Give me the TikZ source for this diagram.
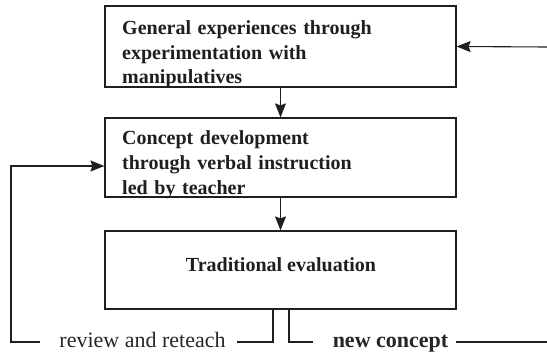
\documentclass[tikz,border=0pt]{standalone}
\usepackage{fontspec}
\setmainfont{Liberation Serif}
\usetikzlibrary{arrows.meta}
\begin{document}
\begin{tikzpicture}[x=1pt,y=1pt,
  ink/.style={draw=black!88,line width=1.2pt},
  boxshape/.style={ink,rectangle,inner sep=0pt,minimum width=351pt},
  boxtext/.style={inner sep=0pt,text width=320pt,align=left,anchor=base west,
    font=\fontsize{20}{24.8}\selectfont\bfseries,text=black!88},
  lbl/.style={inner sep=0pt,anchor=base,font=\fontsize{22}{26}\selectfont,text=black!85},
  conn/.style={ink,line width=1.1pt},
  arr/.style={conn,-{Stealth[length=14pt,width=11pt,inset=2pt,fill=black!88]}}
]
\useasboundingbox (0,0) rectangle (547,-353);
% boxes
\node[boxshape,minimum height=81pt] (b1) at (280.5,-46.5) {};
\node[boxshape,minimum height=79pt] (b2) at (280.5,-157.5) {};
\node[boxshape,minimum height=78pt] (b3) at (280.5,-270) {};
% texts
\node[boxtext] (t1) at (122,-34.3) {General experiences through\\experimentation with\\manipulatives};
\node[boxtext] (t2) at (122,-144.5) {Concept development\\through verbal instruction\\led by teacher};
\node[inner sep=0pt,anchor=base,font=\fontsize{20}{24}\selectfont\bfseries,text=black!88] (t3) at (281,-271.7) {Traditional evaluation};
% labels
\node[lbl] (rr) at (142.5,-347) {review and reteach};
\node[lbl,font=\fontsize{22}{26}\selectfont\bfseries] (nc) at (390.5,-347) {new concept};
% coordinates
\coordinate (rin) at (547,-47);
\coordinate (lb) at (273,-342);
\coordinate (nb) at (289,-342);
\coordinate (lc) at (11,-342);
\coordinate (lt) at (11,-166);
\coordinate (re) at (547,-342);
% connectors
\draw[arr] (b1.south) -- (b2.north);
\draw[arr] (b2.south) -- (b3.north);
\draw[arr] (rin) -- (b1.east);
\draw[conn] (b3.south -| lb) -- (lb) -- ([xshift=11pt]rr.east |- lb);
\draw[arr] ([xshift=-19pt]rr.west |- lc) -- (lc) -- (lt) -- (b2.west |- lt);
\draw[conn] (b3.south -| nb) -- (nb) -- ([xshift=-20pt]nc.west |- nb);
\draw[conn] ([xshift=8pt]nc.east |- re) -- (re);
\end{tikzpicture}
\end{document}
